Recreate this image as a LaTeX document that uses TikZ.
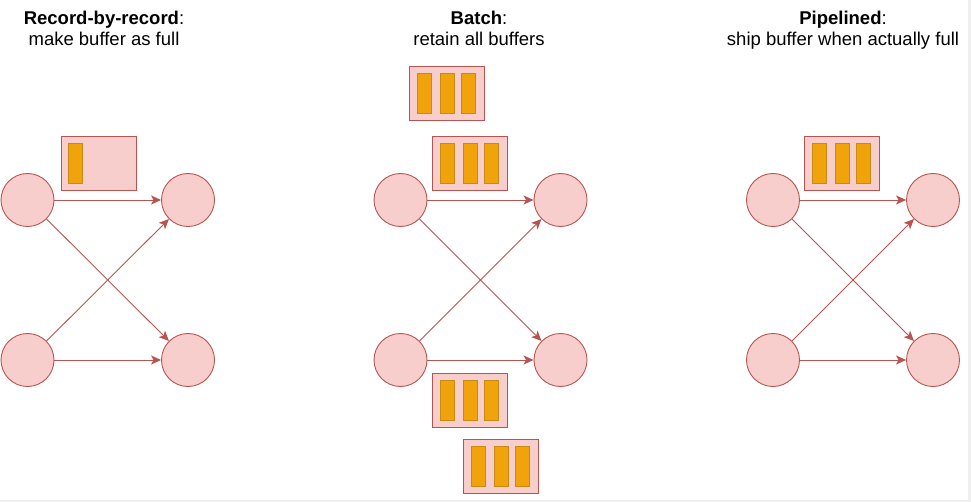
\documentclass[tikz,border=0pt]{standalone}
\usepackage{fontspec}
\setmainfont{Liberation Sans}
\usetikzlibrary{arrows.meta,calc}
\definecolor{nodefill}{HTML}{F8CECC}
\definecolor{nodeline}{HTML}{B85450}
\definecolor{barfill}{HTML}{F0A30A}
\definecolor{barline}{HTML}{C98A12}
\definecolor{edgegray}{HTML}{EFEFEF}
\tikzset{
  proc/.style={circle,draw=nodeline,fill=nodefill,line width=0.9pt,minimum size=53pt,inner sep=0pt},
  buf/.style={rectangle,draw=nodeline,fill=nodefill,line width=0.9pt,minimum width=75pt,minimum height=54pt,inner sep=0pt,anchor=north west},
  bar/.style={rectangle,draw=barline,fill=barfill,line width=0.9pt,minimum width=14pt,minimum height=40pt,inner sep=0pt,anchor=north west},
  flow/.style={draw=nodeline,line width=0.9pt,-{Stealth[length=10pt,width=9pt,inset=2.5pt]}},
  title/.style={align=center,anchor=north,inner sep=0pt,font=\fontsize{18.5}{21}\selectfont}
}
\newcommand{\threebars}[1]{%
  \node[bar] (#1a) at ($(#1.north west)+(8,7)$) {};
  \node[bar] (#1b) at ($(#1.north west)+(31,7)$) {};
  \node[bar] (#1c) at ($(#1.north west)+(52,7)$) {};
}
\begin{document}
\begin{tikzpicture}[x=1pt,y=-1pt]
\useasboundingbox (0,0) rectangle (971,502);
\fill[white] (0,0) rectangle (971,502);
\fill[edgegray] (968,0) rectangle (971,502);
\fill[edgegray] (0,500) rectangle (971,502);

% titles
\node[title] (t1) at (104,11) {\textbf{Record-by-record}:\\make buffer as full};
\node[title] (t2) at (479,11) {\textbf{Batch}:\\retain all buffers};
\node[title] (t3) at (843,11) {\textbf{Pipelined}:\\ship buffer when actually full};

% left column
\node[buf] (L) at (61,136) {};
\node[bar] (La) at ($(L.north west)+(7,7)$) {};
\node[proc] (l1) at (27.5,200) {};
\node[proc] (l2) at (188,200) {};
\node[proc] (l3) at (27.5,360) {};
\node[proc] (l4) at (188,360) {};
\draw[flow] (l1) -- (l2);
\draw[flow] (l1) -- (l4);
\draw[flow] (l3) -- (l2);
\draw[flow] (l3) -- (l4);

% middle column
\node[buf] (M1) at (409,66) {};
\threebars{M1}
\node[buf] (M2) at (432,136) {};
\threebars{M2}
\node[proc] (m1) at (400.5,200) {};
\node[proc] (m2) at (560.5,200) {};
\node[proc] (m3) at (400.5,360) {};
\node[proc] (m4) at (560.5,360) {};
\draw[flow] (m1) -- (m2);
\draw[flow] (m1) -- (m4);
\draw[flow] (m3) -- (m2);
\draw[flow] (m3) -- (m4);
\node[buf] (M3) at (432,373) {};
\threebars{M3}
\node[buf] (M4) at (463,439) {};
\threebars{M4}

% right column
\node[buf] (R) at (804,136) {};
\threebars{R}
\node[proc] (r1) at (773,200) {};
\node[proc] (r2) at (933,200) {};
\node[proc] (r3) at (773,360) {};
\node[proc] (r4) at (933,360) {};
\draw[flow] (r1) -- (r2);
\draw[flow] (r1) -- (r4);
\draw[flow] (r3) -- (r2);
\draw[flow] (r3) -- (r4);
\end{tikzpicture}
\end{document}
